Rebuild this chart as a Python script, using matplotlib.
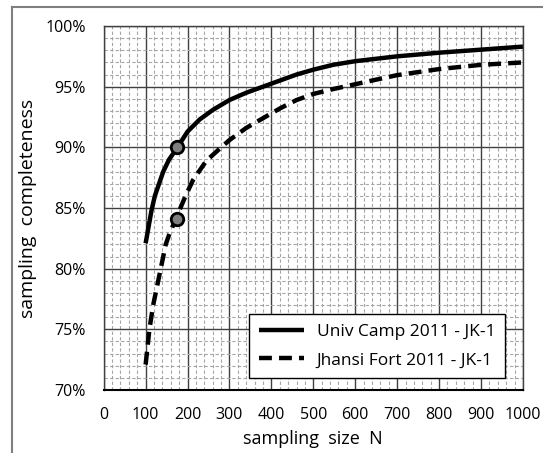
import matplotlib.pyplot as plt
from matplotlib.lines import Line2D
from matplotlib.ticker import MultipleLocator, FuncFormatter

plt.rcParams['font.family'] = ['Open Sans', 'DejaVu Sans']

# ── data ──────────────────────────────────────────────────────────────────
univ_n = [100, 114, 122, 132, 142, 156, 176, 200, 229, 261, 300, 340, 380, 420,
          460, 500, 547, 600, 650, 700, 800, 900, 1000]
univ_c = [82.1, 84.8, 86.0, 87.0, 88.0, 89.0, 90.0, 91.3, 92.3, 93.1, 93.9, 94.5,
          95.0, 95.5, 96.0, 96.4, 96.8, 97.1, 97.3, 97.5, 97.8, 98.05, 98.3]

jhansi_n = [100, 109, 118, 130, 136, 148, 156, 172, 194, 213, 245, 277, 300, 340,
            380, 420, 460, 500, 547, 600, 650, 700, 800, 900, 1000]
jhansi_c = [72.1, 75.0, 77.0, 79.0, 80.0, 82.0, 82.8, 84.1, 85.9, 87.3, 88.9, 89.9,
            90.6, 91.6, 92.4, 93.2, 93.9, 94.4, 94.8, 95.2, 95.58, 95.95, 96.45,
            96.8, 97.0]

mark_n = [175, 174]
mark_c = [90.0, 84.1]

labels = ["Univ Camp 2011 - JK-1", "Jhansi Fort 2011 - JK-1"]

fig = plt.figure(figsize=(5.43, 4.53), dpi=100)
ax = fig.add_axes([0.191, 0.139, 0.772, 0.8036])

# outer frame (left and top edges visible)
W, H = 543, 453
fig.add_artist(Line2D([12 / W, 12 / W], [0, 1 - 7 / H], transform=fig.transFigure,
                      color="#7f7f7f", lw=1.5))
fig.add_artist(Line2D([12 / W, 1], [1 - 7 / H, 1 - 7 / H], transform=fig.transFigure,
                      color="#7f7f7f", lw=1.5))

ax.plot(univ_n, univ_c, color="black", lw=3.2, solid_capstyle="butt",
        solid_joinstyle="round", zorder=3, label=labels[0])
ax.plot(jhansi_n, jhansi_c, color="black", lw=3.2, ls=(0, (2.9, 1.6)),
        dash_joinstyle="round", zorder=3, label=labels[1])
ax.plot(mark_n, mark_c, ls="none", marker="o", ms=9, mfc="#7f7f7f", mec="black",
        mew=2, zorder=4)

ax.set_xlim(0, 1000)
ax.set_ylim(70, 100)
ax.xaxis.set_major_locator(MultipleLocator(100))
ax.xaxis.set_minor_locator(MultipleLocator(20))
ax.yaxis.set_major_locator(MultipleLocator(5))
ax.yaxis.set_minor_locator(MultipleLocator(1))
ax.yaxis.set_major_formatter(FuncFormatter(lambda v, p: f"{v:.0f}%"))

ax.grid(True, which="minor", color="#a6a6a6", lw=0.8, ls=(0, (3, 2)))
ax.grid(True, which="major", color="#404040", lw=1.0, ls="-")
ax.set_axisbelow(True)

ax.tick_params(which="both", length=0, labelsize=11.5)
ax.tick_params(axis="x", pad=12)
ax.tick_params(axis="y", pad=13)
for s in ax.spines.values():
    s.set_color("#404040")
    s.set_linewidth(1.0)
ax.spines["bottom"].set_color("black")
ax.spines["bottom"].set_linewidth(1.5)

ax.set_xlabel("sampling  size  N", fontsize=13, labelpad=5)
ax.set_ylabel("sampling  completeness", fontsize=14, labelpad=6)

leg = ax.legend(loc="lower right", bbox_to_anchor=(0.957, 0.033), fontsize=12.5,
                frameon=True, fancybox=False, handlelength=2.6, handletextpad=0.75,
                borderpad=0.55, labelspacing=0.7, borderaxespad=0)
leg.get_frame().set_edgecolor("black")
leg.get_frame().set_linewidth(1.0)
leg.get_frame().set_alpha(1)

fig.savefig("out.png", dpi=100)
